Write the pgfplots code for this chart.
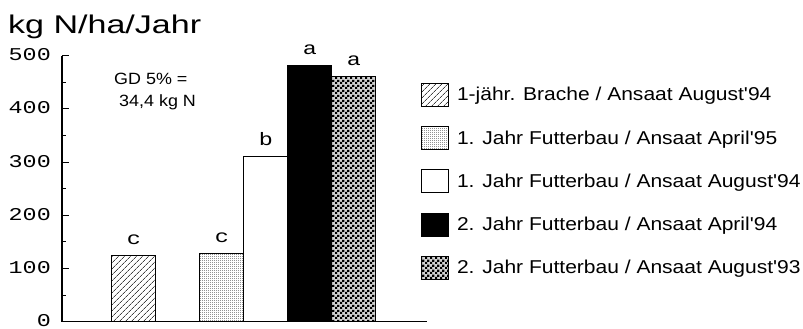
\documentclass[border=0pt]{standalone}
\usepackage{fontspec}
\setmainfont{Liberation Sans}[Ligatures=TeXOff]
\setmonofont{Liberation Mono}[Ligatures=TeXOff]
\usepackage{graphicx}
\usepackage{pgfplots}
\pgfplotsset{compat=1.18}
\usetikzlibrary{patterns,patterns.meta}

% fine stipple and checker fills for the bars
\pgfdeclarepatternformonly{finestipple}{\pgfpointorigin}{\pgfpoint{2pt}{2pt}}{\pgfpoint{2pt}{2pt}}{%
  \pgfpathrectangle{\pgfpointorigin}{\pgfpoint{1pt}{1pt}}\pgfusepath{fill}}
\pgfdeclarepatternformonly{checker}{\pgfpointorigin}{\pgfpoint{5pt}{5pt}}{\pgfpoint{5pt}{5pt}}{%
  \pgfpathrectangle{\pgfpointorigin}{\pgfpoint{2.5pt}{2.5pt}}%
  \pgfpathrectangle{\pgfpoint{2.5pt}{2.5pt}}{\pgfpoint{2.5pt}{2.5pt}}\pgfusepath{fill}}

\newcommand\monotext[1]{\scalebox{1.3}[1]{\ttfamily\fontsize{18}{21}\selectfont #1}}
\newcommand\legtext[1]{\scalebox{1.13}[1]{\fontsize{18.6}{22}\selectfont #1}}
\newcommand\gdtext[1]{\scalebox{1.1}[1]{\fontsize{16.3}{19}\selectfont #1}}
\newcommand\titletext[1]{\scalebox{1.33}[1]{\fontsize{25.6}{30}\selectfont #1}}

\pgfplotsset{
  boxbar/.style={ybar, bar shift=0pt, draw=black, line width=1pt,
    legend image code/.code={%
      \draw[##1, line width=1pt] (0pt,-5.5pt) rectangle (27pt,17.5pt);
      \path (35pt,0pt);}},
}

\begin{document}
\begin{tikzpicture}[x=1pt,y=1pt]
\path[use as bounding box] (0,0) rectangle (803,329);
\begin{axis}[
  at={(62pt,7.3pt)}, anchor=south west,
  scale only axis, width=365pt, height=266pt,
  xmin=-0.636, xmax=7.66, ymin=0, ymax=500,
  axis x line=bottom, axis y line=left,
  axis line style={-, line width=1.2pt},
  xtick=\empty,
  ytick={0,100,200,300,400,500},
  yticklabels={\monotext{0},\monotext{100},\monotext{200},\monotext{300},\monotext{400},\monotext{500}},
  minor y tick num=1,
  tick align=inside,
  major tick length=7pt, minor tick length=3.5pt,
  every tick/.style={black, line width=1pt},
  yticklabel style={anchor=east, inner sep=0pt, xshift=-11pt, yshift=1pt},
  clip=false,
  bar width=1,
  point meta=explicit symbolic,
  nodes near coords={\monotext{\pgfplotspointmeta}},
  every node near coord/.append style={anchor=base, inner sep=0pt, yshift=11pt},
  legend cell align=left,
  legend style={draw=none, fill=none, at={(0.98356,0.8974)}, anchor=north west,
    inner sep=0pt, outer sep=0pt, row sep=19.2pt,
    nodes={inner sep=0pt, anchor=base west}},
]
\addplot[boxbar, pattern={Lines[angle=45,distance=4pt,line width=0.7pt]}, pattern color=black!75]
  coordinates {(1,125) [c]};
\addlegendentry{\legtext{1-jähr. Brache / Ansaat August'94}}
\addplot[boxbar, pattern=finestipple, pattern color=black]
  coordinates {(3,128) [c]};
\addlegendentry{\legtext{1. Jahr Futterbau / Ansaat April'95}}
\addplot[boxbar, fill=white]
  coordinates {(4,310) [b]};
\addlegendentry{\legtext{1. Jahr Futterbau / Ansaat August'94}}
\addplot[boxbar, fill=black]
  coordinates {(5,481) [a]};
\addlegendentry{\legtext{2. Jahr Futterbau / Ansaat April'94}}
\addplot[boxbar, fill=black!18, postaction={pattern=checker, pattern color=black}]
  coordinates {(6,460) [a]};
\addlegendentry{\legtext{2. Jahr Futterbau / Ansaat August'93}}
\end{axis}
\node[anchor=base west, inner sep=0pt] at (8,295.7) {\titletext{kg N/ha/Jahr}};
\node[anchor=base west, inner sep=0pt] at (114,244) {\gdtext{GD 5\% =}};
\node[anchor=base west, inner sep=0pt] at (119,222.3) {\gdtext{34,4 kg N}};
\end{tikzpicture}
\end{document}
